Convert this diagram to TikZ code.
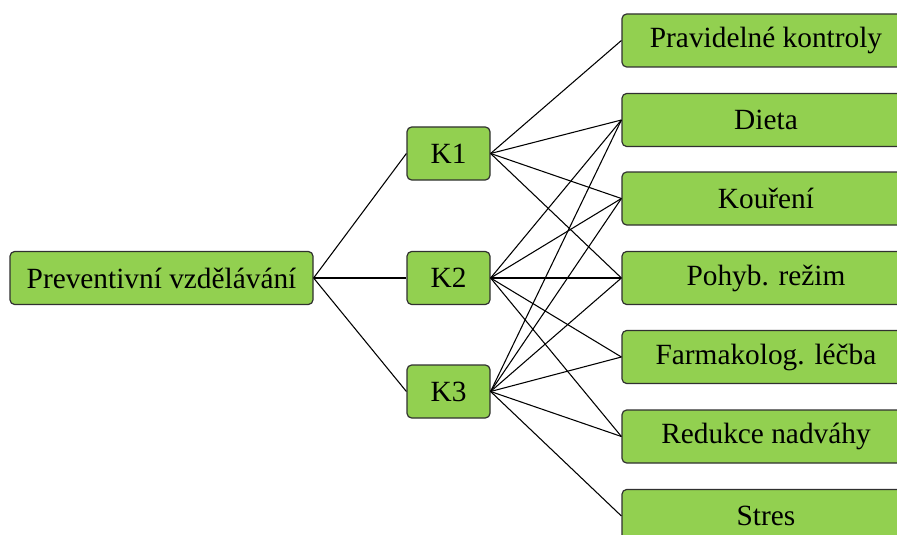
\documentclass[tikz,border=0pt]{standalone}
\usepackage{fontspec}
\setmainfont{Liberation Serif}
\definecolor{boxgreen}{HTML}{92D050}
\definecolor{boxedge}{HTML}{303030}
\begin{document}
\begin{tikzpicture}[x=0.75pt,y=-0.75pt,
  box/.style={draw=boxedge,line width=0.9pt,fill=boxgreen,rounded corners=3.5pt,
    minimum height=53*0.75pt,inner sep=0pt,
    font=\fontsize{22}{26}\selectfont},
  kbox/.style={box,minimum width=83*0.75pt},
  rbox/.style={box,minimum width=288*0.75pt},
  link/.style={line width=0.8pt,black}]
\useasboundingbox (0,0) rectangle (897,535);
\clip (0,0) rectangle (897,535);
% root node
\node[box,minimum width=303*0.75pt] (pv) at (161.5,278) {Preventivní vzdělávání};
% middle column
\node[kbox] (k1) at (448.5,153.5) {K1};
\node[kbox] (k2) at (448.5,278) {K2};
\node[kbox] (k3) at (448.5,391.5) {K3};
% right column
\node[rbox] (r1) at (766,40.5) {Pravidelné kontroly};
\node[rbox] (r2) at (766,120) {Dieta};
\node[rbox] (r3) at (766,198.5) {Kouření};
\node[rbox] (r4) at (766,278) {Pohyb. režim};
\node[rbox] (r5) at (766,357) {Farmakolog. léčba};
\node[rbox] (r6) at (766,436.5) {Redukce nadváhy};
\node[rbox] (r7) at (766,516) {Stres};
% connectors
\foreach \k in {k1,k2,k3} \draw[link] (pv.east) -- (\k.west);
\foreach \r in {r1,r2,r3,r4} \draw[link] (k1.east) -- (\r.west);
\foreach \r in {r2,r3,r4,r5,r6} \draw[link] (k2.east) -- (\r.west);
\foreach \r in {r2,r3,r4,r5,r6,r7} \draw[link] (k3.east) -- (\r.west);
\end{tikzpicture}
\end{document}
